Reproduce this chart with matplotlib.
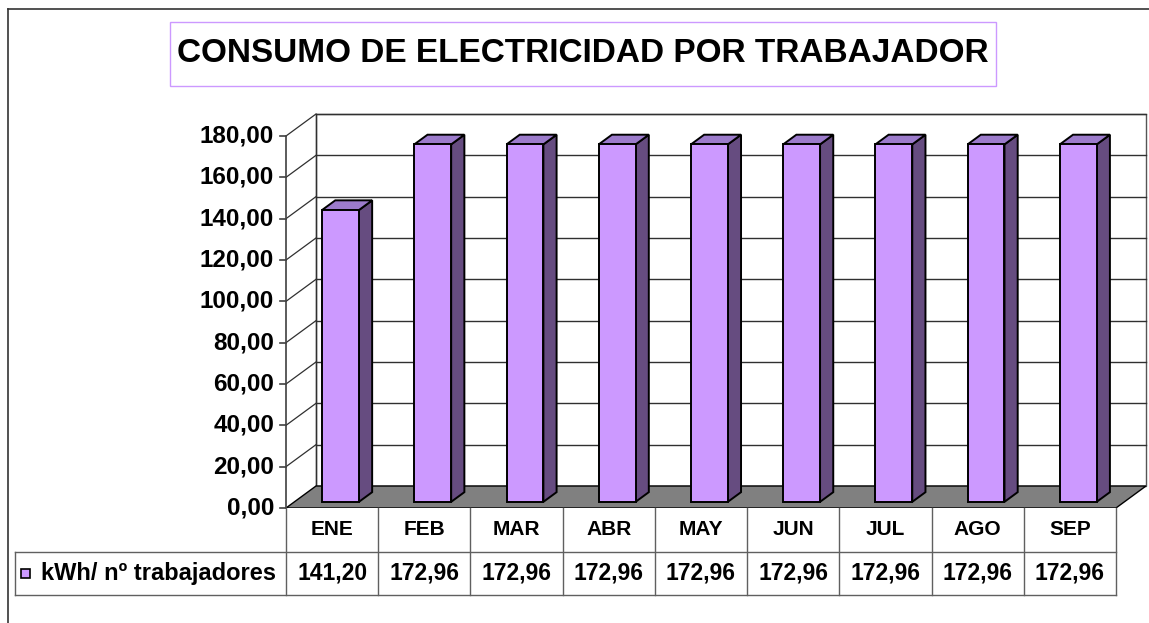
import matplotlib
matplotlib.use('Agg')
import matplotlib.pyplot as plt
from matplotlib.patches import Polygon, Rectangle
from matplotlib.lines import Line2D

plt.rcParams['font.family'] = ['Liberation Sans', 'DejaVu Sans']
plt.rcParams['font.weight'] = 'bold'

title = "CONSUMO DE ELECTRICIDAD POR TRABAJADOR"
months = ["ENE", "FEB", "MAR", "ABR", "MAY", "JUN", "JUL", "AGO", "SEP"]
values = [141.20, 172.96, 172.96, 172.96, 172.96, 172.96, 172.96, 172.96, 172.96]
series_name = "kWh/ nº trabajadores"
y_ticks = [0, 20, 40, 60, 80, 100, 120, 140, 160, 180]

W, H = 1149, 623
col_px = 92.22            # pixels per category
val_px = 372 / 180        # pixels per value unit
x0_px, y0_px = 286, 508   # front-left corner of floor

front_col = '#CC99FF'
side_col = '#664C80'
top_col = '#9C7BCB'
floor_col = '#808080'

# depth of the 3d box, in data units
DX = 30 / col_px
DY = 22 / val_px
z_front, z_back = 0.28, 0.72
bar_w = 0.40


def proj(x, y, z):
    return (x + z * DX, y + z * DY)


def fmt(v):
    return f"{v:.2f}".replace('.', ',')


fig = plt.figure(figsize=(W / 100, H / 100), dpi=100)

# outer chart frame
fig.add_artist(Line2D([8 / W, 8 / W], [1 - 9 / H, 0], color='#333333', lw=1.2))
fig.add_artist(Line2D([8 / W, 1], [1 - 9 / H, 1 - 9 / H], color='#333333', lw=1.2))

# title box
fig.add_artist(Rectangle((170 / W, 1 - 86 / H), (996 - 170) / W, 64 / H,
                         transform=fig.transFigure, fill=False,
                         edgecolor='#CC99FF', lw=1))
fig.text(583 / W, 1 - 54 / H, title, ha='center', va='center',
         fontsize=24, fontweight='bold')

ax = fig.add_axes([x0_px / W, (H - y0_px) / H, (W - x0_px) / W, (y0_px - 100) / H])
ax.set_xlim(0, (W - x0_px) / col_px)
ax.set_ylim(0, (y0_px - 100) / val_px)
ax.axis('off')

n = len(months)
ymax = y_ticks[-1]

# back wall
ax.add_patch(Polygon([proj(0, 0, 1), proj(n, 0, 1), proj(n, ymax, 1), proj(0, ymax, 1)],
                     closed=True, facecolor='white', edgecolor='#555555', lw=1, zorder=1))
# gridlines on back wall and side wall
for t in y_ticks[1:]:
    a, b = proj(0, t, 1), proj(n, t, 1)
    ax.plot([a[0], b[0]], [a[1], b[1]], color='#303030', lw=1, zorder=2)
    c = proj(0, t, 0)
    ax.plot([c[0], a[0]], [c[1], a[1]], color='#303030', lw=0.9, zorder=2)
# side wall back edge
a, b = proj(0, 0, 1), proj(0, ymax, 1)
ax.plot([a[0], b[0]], [a[1], b[1]], color='#303030', lw=1, zorder=2)

# floor
ax.add_patch(Polygon([proj(0, 0, 0), proj(n, 0, 0), proj(n, 0, 1), proj(0, 0, 1)],
                     closed=True, facecolor=floor_col, edgecolor='black', lw=1, zorder=3))

# front axis + ticks
ax.plot([0, 0], [0, ymax], color='#404040', lw=1.2, zorder=4, clip_on=False)
for t in y_ticks:
    ax.plot([-6 / col_px, 0], [t, t], color='#404040', lw=1.2, zorder=4, clip_on=False)
    ax.text(-12 / col_px, t, fmt(t), ha='right', va='center', fontsize=17.5,
            fontweight='bold')

# bars
for i, v in enumerate(values):
    xl = i + 0.5 - bar_w / 2
    xr = i + 0.5 + bar_w / 2
    front = [proj(xl, 0, z_front), proj(xr, 0, z_front), proj(xr, v, z_front), proj(xl, v, z_front)]
    side = [proj(xr, 0, z_front), proj(xr, 0, z_back), proj(xr, v, z_back), proj(xr, v, z_front)]
    top = [proj(xl, v, z_front), proj(xr, v, z_front), proj(xr, v, z_back), proj(xl, v, z_back)]
    for pts, col in [(side, side_col), (top, top_col), (front, front_col)]:
        ax.add_patch(Polygon(pts, closed=True, facecolor=col, edgecolor='black',
                             lw=1.4, joinstyle='miter', zorder=5))

# data table
row_h = 43.5 / val_px
leg_left = (15 - x0_px) / col_px
grid_kw = dict(color='#606060', lw=1, zorder=4, clip_on=False)
ax.plot([0, 0], [0, -2 * row_h], **grid_kw)
for i in range(1, n + 1):
    ax.plot([i, i], [0, -2 * row_h], **grid_kw)
ax.plot([leg_left, n], [-row_h, -row_h], **grid_kw)
ax.plot([leg_left, n], [-2 * row_h, -2 * row_h], **grid_kw)
ax.plot([leg_left, leg_left], [-row_h, -2 * row_h], **grid_kw)

for i, (m, v) in enumerate(zip(months, values)):
    ax.text(i + 0.5, -row_h / 2, m, ha='center', va='center', fontsize=15,
            fontweight='bold')
    ax.text(i + 0.5, -1.5 * row_h, fmt(v), ha='center', va='center', fontsize=16.5,
            fontweight='bold')

# legend key inside table
ax.add_patch(Rectangle((leg_left + 6 / col_px, -1.5 * row_h - 4.5 / val_px),
                       9 / col_px, 9 / val_px, facecolor=front_col,
                       edgecolor='black', lw=1.2, clip_on=False, zorder=5))
ax.text(leg_left + 26 / col_px, -1.5 * row_h, series_name, ha='left', va='center',
        fontsize=17, fontweight='bold')

fig.savefig('out.png', dpi=100)
